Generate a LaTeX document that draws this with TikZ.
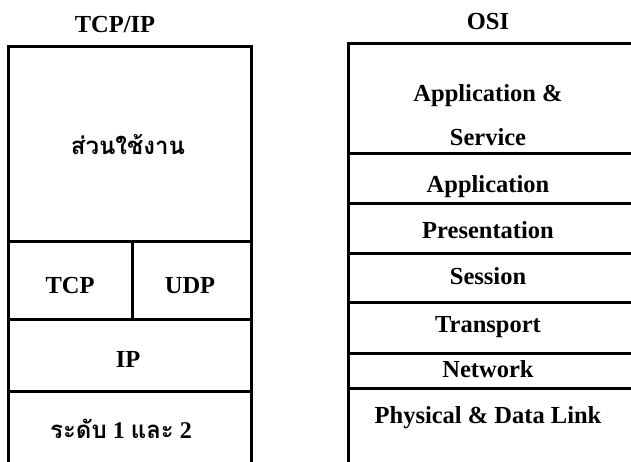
\documentclass[tikz,border=0pt]{standalone}
\usepackage{fontspec}
\setmainfont{Liberation Serif}
\newfontfamily\thaifont[Script=Thai]{Loma}
\usetikzlibrary{positioning}

\tikzset{
  layer/.style={draw, line width=2.6pt, rectangle, inner sep=0pt, anchor=north west},
  lbl/.style={anchor=base, inner sep=0pt, font=\fontsize{24.5}{28}\selectfont\bfseries},
  thlbl/.style={anchor=base, inner sep=0pt, font=\fontsize{24}{28}\selectfont\bfseries}
}

\begin{document}
\begin{tikzpicture}[x=1pt,y=1pt]
\useasboundingbox (0,0) rectangle (631,461);
\clip (0,0) rectangle (631,461);
% TCP/IP stack
\node[lbl] (tcpiptitle) at (115,428) {TCP/IP};
\node[layer, minimum width=243pt, minimum height=195pt] (appl) at (7,416) {};
\node[layer, minimum width=124pt, minimum height=78pt] (tcpbox) at (7,221) {};
\node[layer, minimum width=119pt, minimum height=78pt] (udpbox) at (131,221) {};
\node[layer, minimum width=243pt, minimum height=72pt] (ipbox) at (7,143) {};
\node[layer, minimum width=243pt, minimum height=84pt] (lowbox) at (7,71) {};
\node[thlbl] (appltext) at (128,306) {\thaifont ส่วนใช้งาน};
\node[lbl] (tcptext) at (70,168) {TCP};
\node[lbl] (udptext) at (190,168) {UDP};
\node[lbl] (iptext) at (128,94) {IP};
\node[thlbl] (lowtext) at (121,23) {{\thaifont ระดับ} 1 {\thaifont และ} 2};
% OSI stack
\node[lbl] (ostitle) at (488,431) {OSI};
\node[layer, minimum width=295pt, minimum height=110pt] (appsvc) at (347,419) {};
\node[layer, minimum width=295pt, minimum height=50pt] (appbox) at (347,309) {};
\node[layer, minimum width=295pt, minimum height=50pt] (presbox) at (347,259) {};
\node[layer, minimum width=295pt, minimum height=49pt] (sessbox) at (347,209) {};
\node[layer, minimum width=295pt, minimum height=51pt] (transbox) at (347,160) {};
\node[layer, minimum width=295pt, minimum height=35pt] (netbox) at (347,109) {};
\node[layer, minimum width=295pt, minimum height=84pt] (physbox) at (347,74) {};
\node[lbl] (appsvctexta) at (488,359) {Application \&};
\node[lbl] (appsvctextb) at (488,315) {Service};
\node[lbl] (apptext) at (488,269) {Application};
\node[lbl] (prestext) at (488,223) {Presentation};
\node[lbl] (sesstext) at (488,177) {Session};
\node[lbl] (transtext) at (488,129) {Transport};
\node[lbl] (nettext) at (488,84) {Network};
\node[lbl] (physstext) at (488,38) {Physical \& Data Link};
\end{tikzpicture}
\end{document}
